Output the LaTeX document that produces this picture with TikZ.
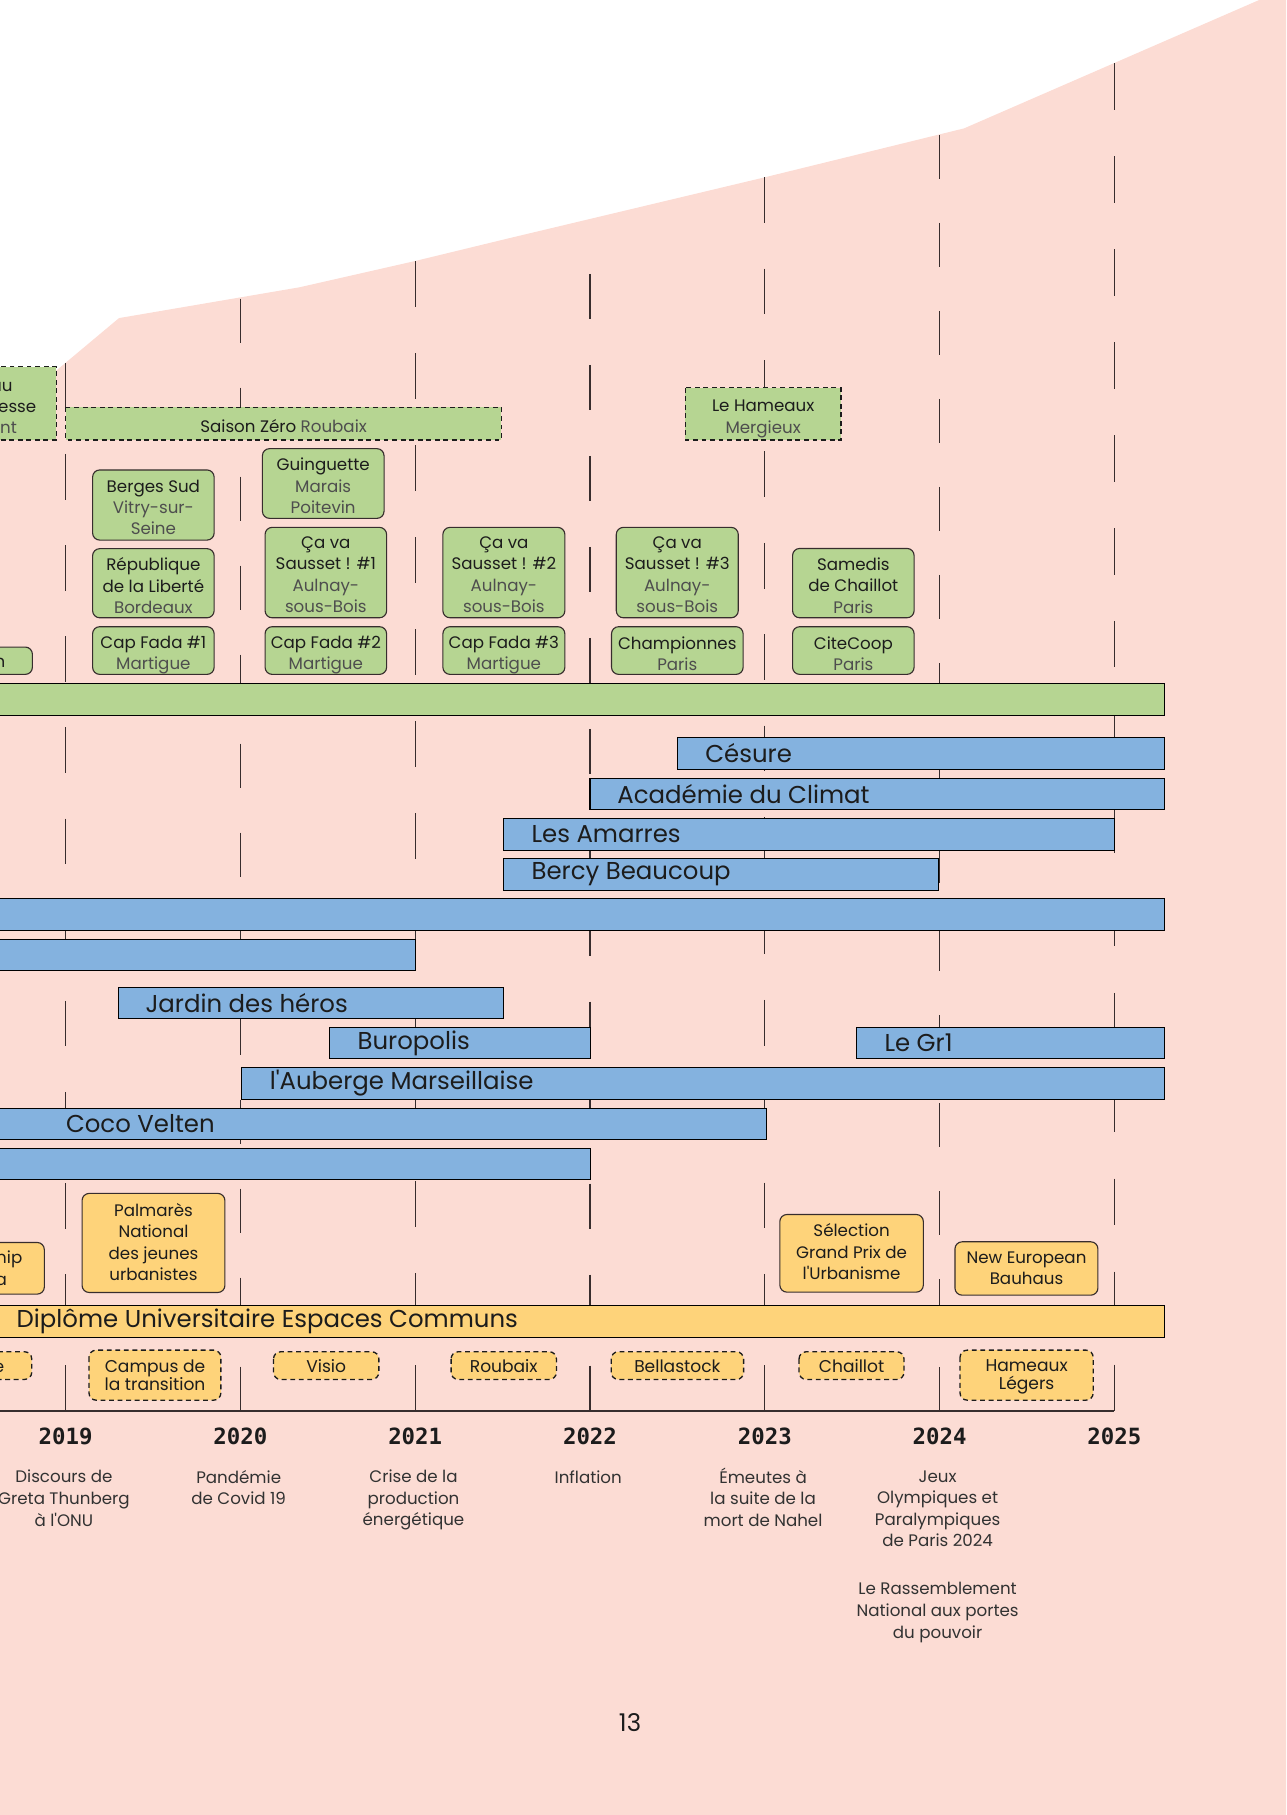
\documentclass[tikz,border=0pt]{standalone}
\usepackage{fontspec}
\setmainfont{Poppins}[Ligatures=TeXOff]
\newfontfamily\yearfont{DejaVu Sans Mono}
\usepackage{tikz}

\definecolor{pinkbg}{RGB}{252,220,212}
\definecolor{grn}{RGB}{182,213,146}
\definecolor{blu}{RGB}{132,178,223}
\definecolor{ylw}{RGB}{254,211,122}
\definecolor{ink}{RGB}{28,28,28}
\definecolor{lieucol}{RGB}{78,78,78}
\definecolor{evtcol}{RGB}{50,50,50}
\definecolor{rulecol}{RGB}{55,45,45}
\newcommand\lieu[1]{\textcolor{lieucol}{#1}}

\begin{document}
\begin{tikzpicture}[x=0.02cm,y=-0.02cm,
 yline/.style={draw=rulecol,line width=0.5pt},
 axisline/.style={draw=rulecol,line width=0.7pt},
 barbox/.style={draw=black,line width=0.5pt},
 gbox/.style={draw=rulecol,fill=grn,line width=0.55pt,rounded corners=3.5pt},
 gdash/.style={draw=ink,fill=grn,line width=0.65pt,dash pattern=on 2.4pt off 1.8pt},
 ybox/.style={draw=rulecol,fill=ylw,line width=0.55pt,rounded corners=3.5pt},
 ydash/.style={draw=ink,fill=ylw,line width=0.65pt,rounded corners=3.5pt,dash pattern=on 2.4pt off 1.8pt},
 bartxt/.style={anchor=west,inner sep=0pt,text=ink,font=\fontsize{12}{14}\selectfont},
 boxtxt/.style={align=center,inner sep=0pt,text=ink,font=\fontsize{8.2}{10.5}\selectfont},
 tighttxt/.style={align=center,inner sep=0pt,text=ink,font=\fontsize{8.4}{9.2}\selectfont},
 cuttxt/.style={anchor=mid east,inner sep=0pt,text=ink,font=\fontsize{8.2}{10.5}\selectfont},
 evt/.style={align=center,inner sep=0pt,text=evtcol,font=\fontsize{8.2}{10.6}\selectfont},
 yr/.style={inner sep=0pt,text=ink,font=\yearfont\bfseries\fontsize{11}{13}\selectfont}]

\useasboundingbox (0,0) rectangle (1111,1568);
\clip (0,0) rectangle (1111,1568);

% fond rose
\fill[pinkbg] (0,360.9) -- (56.7,313.4) -- (102.8,274.8) -- (258.7,248.2) -- (358.6,225.5)
  -- (439.4,205.9) -- (660.6,153.2) -- (832.9,110.9) -- (1087.8,0) -- (1111,0)
  -- (1111,1568) -- (0,1568) -- cycle;

% lignes des annees
\foreach \x/\t/\n in {56.7/313.4/23,207.7/258/25,358.7/225.5/25,509.7/236.7/25,660.7/153.2/27,811.5/116.6/29,962.5/54.7/29}{
  \pgfmathsetmacro\d{(1219-\t)/\n*0.02}
  \draw[yline,dash pattern=on \d cm off \d cm] (\x,\t) -- (\x,1219);
}
\draw[axisline] (0,1219) -- (962.5,1219);

% petits evenements
\draw[gdash] (-10,316.8) rectangle (48.7,380);
\node[cuttxt] (fraga) at (11.2,333.6) {au};
\node[cuttxt] (fragb) at (31.7,351.3) {esse};
\node[cuttxt,text=lieucol] (fragc) at (15,369.8) {ont};

\draw[gdash] (56.8,352) rectangle (433,380);
\node[boxtxt] (saison) at (245,368) {Saison Zéro \lieu{Roubaix}};
\draw[gdash] (592,335) rectangle (726.6,380);
\node[boxtxt] (hameaux) at (659.3,362) {Le Hameaux\\\lieu{Mergieux}};

\draw[gbox] (80,406) rectangle (185,466.6);
\node[boxtxt] (berges) at (132.5,438.3) {Berges Sud\\\lieu{Vitry-sur-}\\\lieu{Seine}};
\draw[gbox] (226.7,387.6) rectangle (331.8,447.8);
\node[boxtxt] (guinguette) at (279.2,419.7) {Guinguette\\\lieu{Marais}\\\lieu{Poitevin}};
\draw[gbox] (80,474) rectangle (185,533.7);
\node[boxtxt] (republique) at (132.5,505.9) {République\\de la Liberté\\\lieu{Bordeaux}};
\draw[gbox] (229,455.6) rectangle (334,533.7);
\node[boxtxt] (sausseta) at (281.5,496.6) {Ça va\\Sausset ! \#1\\\lieu{Aulnay-}\\\lieu{sous-Bois}};
\draw[gbox] (382.6,455.6) rectangle (488,533.7);
\node[boxtxt] (aussetb) at (435.3,496.6) {Ça va\\Sausset ! \#2\\\lieu{Aulnay-}\\\lieu{sous-Bois}};
\draw[gbox] (532.4,455.6) rectangle (637.8,533.7);
\node[boxtxt] (saussetc) at (585.1,496.6) {Ça va\\Sausset ! \#3\\\lieu{Aulnay-}\\\lieu{sous-Bois}};
\draw[gbox] (684.7,473.8) rectangle (789.7,533.7);
\node[boxtxt] (samedis) at (737.2,505.8) {Samedis\\de Chaillot\\\lieu{Paris}};

\draw[gbox] (-10,559) rectangle (28,582.6);
\node[cuttxt] (fragd) at (5,572) {n};
\draw[gbox] (80,541.4) rectangle (185,582.6);
\node[boxtxt] (capfadaa) at (132.5,566) {Cap Fada \#1\\\lieu{Martigue}};
\draw[gbox] (229,541.4) rectangle (334,582.6);
\node[boxtxt] (capfadab) at (281.5,566) {Cap Fada \#2\\\lieu{Martigue}};
\draw[gbox] (382.6,541.4) rectangle (488,582.6);
\node[boxtxt] (capfadac) at (435.3,566) {Cap Fada \#3\\\lieu{Martigue}};
\draw[gbox] (528.3,541.4) rectangle (642,582.6);
\node[boxtxt] (championnes) at (585.1,565) {Championnes\\\lieu{Paris}};
\draw[gbox] (684.7,541.4) rectangle (789.7,582.6);
\node[boxtxt] (citecoop) at (737.2,565) {CiteCoop\\\lieu{Paris}};

% barre verte
\draw[barbox,fill=grn] (-10,590.5) rectangle (1006,618.5);

% barres bleues
\draw[barbox,fill=blu] (585.7,637.2) rectangle (1006,664.9);
\node[bartxt] (cesure) at (609,651) {Césure};
\draw[barbox,fill=blu] (509.7,672.9) rectangle (1006,699.7);
\node[bartxt] (academie) at (533,686.3) {Académie du Climat};
\draw[barbox,fill=blu] (434.7,707.1) rectangle (963,734.7);
\node[bartxt] (amarres) at (458.9,720.9) {Les Amarres};
\draw[barbox,fill=blu] (434.7,741.6) rectangle (811,769.3);
\node[bartxt] (bercy) at (458.9,755.4) {Bercy Beaucoup};
\draw[barbox,fill=blu] (-10,776.4) rectangle (1006,803.8);
\draw[barbox,fill=blu] (-10,811.6) rectangle (359.1,838.6);
\draw[barbox,fill=blu] (102.2,852.9) rectangle (434.7,880);
\node[bartxt] (jardin) at (125.4,866.4) {Jardin des héros};
\draw[barbox,fill=blu] (284.3,887.7) rectangle (509.8,914.5);
\node[bartxt] (buropolis) at (308.6,901.6) {Buropolis};
\draw[barbox,fill=blu] (739.6,887.7) rectangle (1006,914.5);
\node[bartxt] (legr) at (763.8,901.1) {Le Gr1};
\draw[barbox,fill=blu] (208.3,921.9) rectangle (1006,949.9);
\node[bartxt] (auberge) at (232.7,935.9) {l'Auberge Marseillaise};
\draw[barbox,fill=blu] (-10,957.6) rectangle (662.3,984.4);
\node[bartxt] (coco) at (56.7,971) {Coco Velten};
\draw[barbox,fill=blu] (-10,992.1) rectangle (509.8,1018.9);

% prix
\draw[ybox] (-10,1073.4) rectangle (38.3,1118);
\node[cuttxt] (frage) at (19.6,1087) {hip};
\node[cuttxt] (fragf) at (6.3,1106) {a};
\draw[ybox] (70.9,1031) rectangle (194.3,1116.6);
\node[boxtxt] (palmares) at (132.6,1073) {Palmarès\\National\\des jeunes\\urbanistes};
\draw[ybox] (673.7,1049.2) rectangle (797.7,1116.3);
\node[boxtxt] (selection) at (735.7,1081.3) {Sélection\\Grand Prix de\\l'Urbanisme};
\draw[ybox] (825,1072.8) rectangle (948.5,1118.9);
\node[boxtxt] (bauhaus) at (886.8,1095.9) {New European\\Bauhaus};

% barre jaune
\draw[barbox,fill=ylw] (-10,1128) rectangle (1006,1155.5);
\node[bartxt] (diplome) at (14.1,1141.8) {Diplôme Universitaire Espaces Communs};

% sessions
\draw[ydash] (-10,1167.8) rectangle (27.4,1191.7);
\node[cuttxt] (fragg) at (4,1180.5) {e};
\draw[ydash] (76.9,1166.4) rectangle (190.8,1209.6);
\node[tighttxt] (campus) at (133.9,1188) {Campus de\\la transition};
\draw[ydash] (236.3,1167.8) rectangle (327.3,1191.7);
\node[tighttxt] (visio) at (281.8,1180.3) {Visio};
\draw[ydash] (389.7,1167.8) rectangle (480.7,1191.7);
\node[tighttxt] (roubaix) at (435.2,1180.3) {Roubaix};
\draw[ydash] (528,1167.8) rectangle (642.4,1191.7);
\node[tighttxt] (bellastock) at (585.2,1180.3) {Bellastock};
\draw[ydash] (690.3,1167.8) rectangle (781,1191.7);
\node[tighttxt] (chaillot) at (735.7,1180.3) {Chaillot};
\draw[ydash] (829.4,1166.4) rectangle (944.4,1209.6);
\node[tighttxt] (hameauxl) at (886.9,1189.5) {Hameaux\\Légers};

% annees
\foreach \yy [count=\i from 0] in {2019,...,2025}
  \node[yr] (an\yy) at (56.7+151*\i,1241) {\yy};

% contexte
\node[evt] (greta) at (55.2,1294.3) {Discours de\\Greta Thunberg\\à l'ONU};
\node[evt] (covid) at (206.2,1285) {Pandémie\\de Covid 19};
\node[evt] (energie) at (357.2,1295.8) {Crise de la\\production\\énergétique};
\node[evt] (inflation) at (508.2,1275.8) {Inflation};
\node[evt] (nahel) at (659.2,1293.3) {Émeutes à\\la suite de la\\mort de Nahel};
\node[evt] (jeux) at (810,1303.4) {Jeux\\Olympiques et\\Paralympiques\\de Paris 2024};
\node[evt] (rn) at (810,1393) {Le Rassemblement\\National aux portes\\du pouvoir};

\node[inner sep=0pt,text=ink,font=\fontsize{12}{14}\selectfont] (page) at (544.3,1488.4) {13};

\end{tikzpicture}
\end{document}
